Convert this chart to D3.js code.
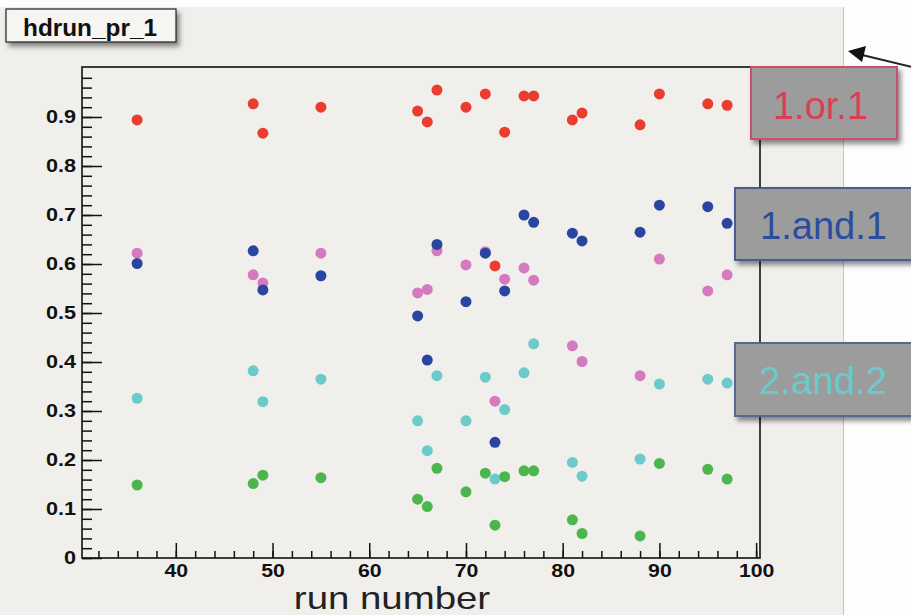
<!DOCTYPE html>
<html>
<head>
<meta charset="utf-8">
<script src="https://cdn.jsdelivr.net/npm/d3@7"></script>
<style>
  body { margin: 0; background: #fff; }
  text { font-family: "Liberation Sans", Arial, Helvetica, sans-serif; }
</style>
</head>
<body>
<div class="chart"></div>
<script>
// run numbers on the x axis
const runs = [36, 48, 49, 55, 65, 66, 67, 70, 72, 73, 74, 76, 77, 81, 82, 88, 90, 95, 97];

// one value per run
const orOne   = [0.894, 0.927, 0.867, 0.920, 0.912, 0.890, 0.955, 0.920, 0.947, 0.596, 0.869, 0.943, 0.943, 0.894, 0.908, 0.884, 0.947, 0.927, 0.924];
const andOne  = [0.601, 0.627, 0.547, 0.576, 0.494, 0.404, 0.640, 0.523, 0.622, 0.236, 0.545, 0.700, 0.685, 0.663, 0.647, 0.665, 0.720, 0.717, 0.683];
const pinkSet = [0.622, 0.578, 0.561, 0.622, 0.541, 0.548, 0.627, 0.598, 0.625, 0.320, 0.569, 0.592, 0.567, 0.433, 0.401, 0.372, 0.610, 0.545, 0.578];
const andTwo  = [0.326, 0.382, 0.319, 0.365, 0.280, 0.219, 0.372, 0.280, 0.369, 0.161, 0.303, 0.378, 0.437, 0.195, 0.167, 0.202, 0.355, 0.365, 0.357];
const greenSet = [0.149, 0.152, 0.169, 0.164, 0.120, 0.105, 0.183, 0.135, 0.173, 0.067, 0.166, 0.178, 0.178, 0.078, 0.050, 0.045, 0.193, 0.181, 0.161];

const xTicks = [40, 50, 60, 70, 80, 90, 100];
const yTicks = [0, 0.1, 0.2, 0.3, 0.4, 0.5, 0.6, 0.7, 0.8, 0.9];

// drawing order: pink under blue, green on top
const series = [
    { values: pinkSet,  color: "#d67ac0" },
    { values: andOne,   color: "#2a45a0" },
    { values: orOne,    color: "#ea3d30" },
    { values: andTwo,   color: "#6ccaca" },
    { values: greenSet, color: "#4cb64e" }
];

const labels = [
    { text: "1.or.1",  x: 751, y: 67,  w: 146, h: 72, stroke: "#c9506a", color: "#dc3f55", tx: 773, ty: 119, tl: 95 },
    { text: "1.and.1", x: 735, y: 188, w: 190, h: 72, stroke: "#4a5c96", color: "#2c4c9e", tx: 760, ty: 239, tl: 127 },
    { text: "2.and.2", x: 735, y: 343, w: 190, h: 73, stroke: "#56688e", color: "#68cccc", tx: 759, ty: 394, tl: 128 }
];

const W = 911, H = 615;
const frame = { left: 82, right: 760, top: 67, bottom: 558 };

const svg = d3.select(".chart").append("svg")
    .attr("width", W)
    .attr("height", H);

const defs = svg.append("defs");
const shadow = defs.append("filter").attr("id", "shadow")
    .attr("x", "-10%").attr("y", "-10%").attr("width", "130%").attr("height", "140%");
shadow.append("feDropShadow")
    .attr("dx", 3).attr("dy", 4).attr("stdDeviation", 2.5)
    .attr("flood-color", "#000").attr("flood-opacity", 0.45);

// canvas background
svg.append("rect").attr("width", W).attr("height", H).attr("fill", "#fdfdfd");
svg.append("rect").attr("x", 0).attr("y", 7).attr("width", 843).attr("height", H - 7).attr("fill", "#f1efec");
svg.append("line").attr("x1", 843.5).attr("x2", 843.5).attr("y1", 7).attr("y2", H)
    .attr("stroke", "#c4c4c4").attr("stroke-width", 1);

// scales
const xScale = d3.scaleLinear().domain([30.3, 100.4]).range([frame.left, frame.right]);
const yScale = d3.scaleLinear().domain([0, 1.0]).range([frame.bottom, frame.top + 1]);

// minor ticks (inward, no labels)
svg.append("g")
    .attr("transform", `translate(0, ${frame.bottom})`)
    .call(d3.axisBottom(xScale).tickValues(d3.range(32, 101, 2)).tickSizeInner(-7).tickSizeOuter(0).tickFormat(""))
    .call(g => g.select(".domain").remove());

svg.append("g")
    .attr("transform", `translate(${frame.left}, 0)`)
    .call(d3.axisLeft(yScale).tickValues(d3.range(0, 0.99, 0.02)).tickSizeInner(-10).tickSizeOuter(0).tickFormat(""))
    .call(g => g.select(".domain").remove());

// major ticks with labels
const xAxis = svg.append("g")
    .attr("transform", `translate(0, ${frame.bottom})`)
    .call(d3.axisBottom(xScale).tickValues(xTicks).tickSizeInner(-15).tickSizeOuter(0).tickPadding(6).tickFormat(d3.format("d")));
xAxis.select(".domain").remove();
xAxis.selectAll("text")
    .attr("fill", "#111")
    .style("font-size", "19px")
    .style("font-weight", "bold")
    .attr("transform", "scale(1.12,1)");

const yAxis = svg.append("g")
    .attr("transform", `translate(${frame.left}, 0)`)
    .call(d3.axisLeft(yScale).tickValues(yTicks).tickSizeInner(-20).tickSizeOuter(0).tickPadding(5).tickFormat(d => d === 0 ? "0" : d3.format(".1f")(d)));
yAxis.select(".domain").remove();
yAxis.selectAll("text")
    .attr("fill", "#111")
    .style("font-size", "18px")
    .style("font-weight", "bold")
    .attr("transform", "scale(1.2,1)");

svg.selectAll(".tick line").attr("stroke", "#111").attr("stroke-width", 1.5);

// plot frame
svg.append("rect")
    .attr("x", frame.left).attr("y", frame.top)
    .attr("width", frame.right - frame.left).attr("height", frame.bottom - frame.top)
    .attr("fill", "none").attr("stroke", "#111").attr("stroke-width", 1.6);

// points
series.forEach(s => {
    svg.append("g").selectAll("circle")
        .data(runs.map((r, i) => ({ run: r, value: s.values[i] })))
        .enter()
        .append("circle")
        .attr("cx", d => xScale(d.run))
        .attr("cy", d => yScale(d.value))
        .attr("r", 5.5)
        .attr("fill", s.color);
});

// axis title
svg.append("text")
    .attr("transform", "translate(392, 609) scale(1.2,1)")
    .attr("text-anchor", "middle")
    .attr("fill", "#222")
    .style("font-size", "32px")
    .text("run number");

// histogram title box
svg.append("rect")
    .attr("x", 6).attr("y", 9).attr("width", 170).attr("height", 33)
    .attr("fill", "#f6f5f2").attr("stroke", "#222").attr("stroke-width", 1.2)
    .attr("filter", "url(#shadow)");
svg.append("text")
    .attr("x", 23).attr("y", 36)
    .attr("textLength", 134).attr("lengthAdjust", "spacingAndGlyphs")
    .attr("fill", "#111")
    .style("font-size", "24px")
    .style("font-weight", "bold")
    .text("hdrun_pr_1");

// arrow pointing to the canvas edge
svg.append("line")
    .attr("x1", 912).attr("y1", 67).attr("x2", 858).attr("y2", 54)
    .attr("stroke", "#222").attr("stroke-width", 2);
svg.append("path")
    .attr("d", "M848,51 L866,46 L862,62 Z")
    .attr("fill", "#111");

// series labels
labels.forEach(l => {
    svg.append("rect")
        .attr("x", l.x).attr("y", l.y).attr("width", l.w).attr("height", l.h)
        .attr("fill", "#9c9c9c").attr("stroke", l.stroke).attr("stroke-width", 2)
        .attr("filter", "url(#shadow)");
    svg.append("text")
        .attr("x", l.tx).attr("y", l.ty)
        .attr("textLength", l.tl).attr("lengthAdjust", "spacingAndGlyphs")
        .attr("fill", l.color)
        .style("font-size", "38px")
        .text(l.text);
});
</script>
</body>
</html>
